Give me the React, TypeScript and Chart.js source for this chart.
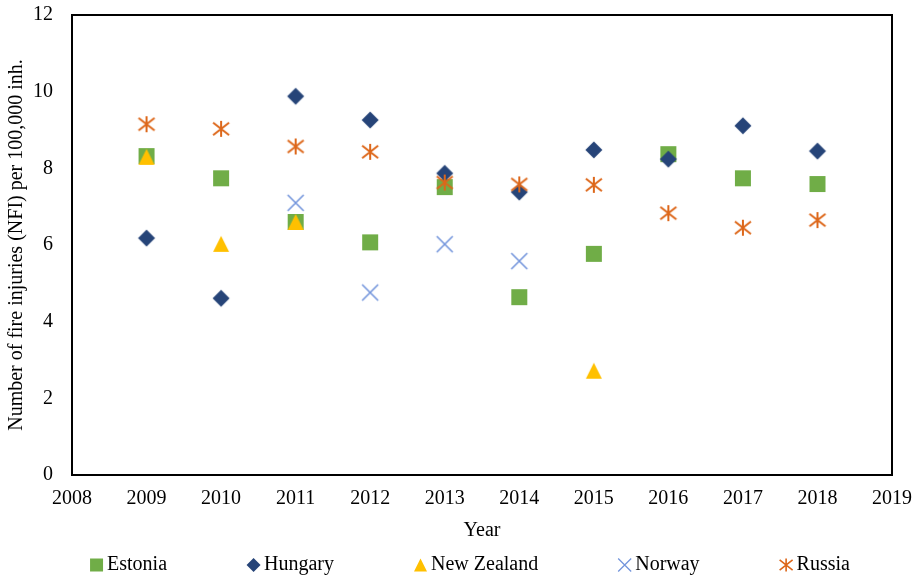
import React, { useEffect, useRef } from 'react';
import { Chart, registerables } from 'chart.js';

Chart.register(...registerables);

// ---- data ----
const years = [2009, 2010, 2011, 2012, 2013, 2014, 2015, 2016, 2017, 2018];
const seriesNames = ['Estonia', 'Hungary', 'New Zealand', 'Norway', 'Russia'];
const estonia = [8.32, 7.74, 6.6, 6.07, 7.51, 4.64, 5.77, 8.37, 7.74, 7.59];
const hungary = [6.18, 4.61, 9.88, 9.26, 7.87, 7.38, 8.48, 8.24, 9.11, 8.45];
const newZealand = [8.3, 6.03, 6.6, null, null, null, 2.72, null, null, null];
const norway = [null, null, 7.1, 4.76, 6.02, 5.58, null, null, null, null];
const russia = [9.15, 9.03, 8.57, 8.43, 7.63, 7.58, 7.57, 6.83, 6.45, 6.65];
const xTickMin = 2008;
const xTickMax = 2019;
const xTickStep = 1;
const yTickMin = 0;
const yTickMax = 12;
const yTickStep = 2;
const xTitle = 'Year';
const yTitle = 'Number of fire injuries (NFI) per 100,000 inh.';

// ---- styles ----
const FONT = "'Liberation Serif', 'Times New Roman', serif";
const colors = ['#70AD47', '#264478', '#FFC000', '#7395DC', '#DD671A'];
type Kind = 'square' | 'diamond' | 'triangle' | 'x' | 'asterisk';
const kinds: Kind[] = ['square', 'diamond', 'triangle', 'x', 'asterisk'];
const markSizes = [16, 17, 16, 16, 16];
const legendMarkSizes = [13, 14, 13, 13, 13];
const LEG_MARK = 13;
const LEG_TEXT_GAP = 4;
const LEG_ITEM_GAP = 80;
const LEG_CENTER_X = 470;
const LEG_FROM_BOTTOM = 13;

function drawMarker(ctx: CanvasRenderingContext2D, kind: Kind, cx: number, cy: number, s: number, color: string) {
  const h = s / 2;
  ctx.save();
  ctx.fillStyle = color;
  ctx.strokeStyle = color;
  ctx.beginPath();
  if (kind === 'square') {
    ctx.rect(cx - h, cy - h, s, s);
    ctx.fill();
  } else if (kind === 'diamond') {
    ctx.moveTo(cx, cy - h);
    ctx.lineTo(cx + h, cy);
    ctx.lineTo(cx, cy + h);
    ctx.lineTo(cx - h, cy);
    ctx.closePath();
    ctx.fill();
  } else if (kind === 'triangle') {
    ctx.moveTo(cx, cy - h);
    ctx.lineTo(cx + h, cy + h);
    ctx.lineTo(cx - h, cy + h);
    ctx.closePath();
    ctx.fill();
  } else if (kind === 'x') {
    ctx.lineWidth = s / 10;
    ctx.moveTo(cx - h, cy - h);
    ctx.lineTo(cx + h, cy + h);
    ctx.moveTo(cx + h, cy - h);
    ctx.lineTo(cx - h, cy + h);
    ctx.stroke();
  } else {
    ctx.lineWidth = s / 8;
    const d = h * 0.78;
    ctx.moveTo(cx, cy - h);
    ctx.lineTo(cx, cy + h);
    ctx.moveTo(cx - h, cy - d);
    ctx.lineTo(cx + h, cy + d);
    ctx.moveTo(cx + h, cy - d);
    ctx.lineTo(cx - h, cy + d);
    ctx.stroke();
  }
  ctx.restore();
}

function markerCanvas(kind: Kind, s: number, color: string) {
  const c = document.createElement('canvas');
  c.width = 22;
  c.height = 22;
  const ctx = c.getContext('2d')!;
  drawMarker(ctx, kind, c.width / 2, c.height / 2, s, color);
  return c;
}

const framePlugin = {
  id: 'frame',
  beforeDatasetsDraw(chart: any) {
    const { ctx, chartArea } = chart;
    ctx.save();
    ctx.strokeStyle = '#000';
    ctx.lineWidth = 2;
    ctx.strokeRect(chartArea.left, chartArea.top, chartArea.right - chartArea.left, chartArea.bottom - chartArea.top);
    ctx.restore();
  },
};

const legendPlugin = {
  id: 'bottomLegend',
  afterDraw(chart: any) {
    const ctx: CanvasRenderingContext2D = chart.ctx;
    ctx.save();
    ctx.font = `20px ${FONT}`;
    ctx.textBaseline = 'middle';
    ctx.textAlign = 'left';
    ctx.fillStyle = '#000';
    const items = chart.data.datasets.map((ds: any, i: number) => ({
      label: ds.label as string,
      kind: kinds[i],
      color: colors[i],
      size: legendMarkSizes[i],
      w: LEG_MARK + LEG_TEXT_GAP + ctx.measureText(ds.label).width,
    }));
    const total = items.reduce((a: number, it: any) => a + it.w, 0) + LEG_ITEM_GAP * (items.length - 1);
    let x = LEG_CENTER_X - total / 2;
    const y = chart.height - LEG_FROM_BOTTOM;
    items.forEach((it: any) => {
      drawMarker(ctx, it.kind, x + LEG_MARK / 2, y, it.size, it.color);
      ctx.fillText(it.label, x + LEG_MARK + LEG_TEXT_GAP, y);
      x += it.w + LEG_ITEM_GAP;
    });
    ctx.restore();
  },
};

export default function App() {
  const ref = useRef<HTMLCanvasElement>(null);

  useEffect(() => {
    document.body.style.margin = '0';
    const canvas = ref.current;
    if (!canvas) return;
    const all = [estonia, hungary, newZealand, norway, russia];
    const datasets = all.map((vals, i) => ({
      label: seriesNames[i],
      data: years
        .map((x, j) => ({ x, y: vals[j] }))
        .filter((p) => p.y !== null && p.y !== undefined),
      pointStyle: markerCanvas(kinds[i], markSizes[i], colors[i]),
      pointRadius: 8,
      pointHoverRadius: 8,
      backgroundColor: colors[i],
      borderColor: colors[i],
      showLine: false,
      order: all.length - 1 - i,
      clip: false as const,
    }));

    const tickFont = { family: FONT, size: 20 };
    const chart = new Chart(canvas, {
      type: 'scatter',
      data: { datasets },
      plugins: [framePlugin, legendPlugin],
      options: {
        responsive: false,
        animation: false,
        devicePixelRatio: 1,
        events: [],
        layout: { padding: { top: 15, right: 28, bottom: 35, left: 0 } },
        plugins: {
          legend: { display: false },
          tooltip: { enabled: false },
        },
        scales: {
          x: {
            type: 'linear',
            min: xTickMin,
            max: xTickMax,
            grid: { display: false, drawTicks: false },
            border: { display: false },
            ticks: {
              stepSize: xTickStep,
              font: tickFont,
              color: '#000',
              padding: 12,
              maxRotation: 0,
              autoSkip: false,
              callback: (v: any) => String(v),
            },
            title: {
              display: true,
              text: xTitle,
              font: tickFont,
              color: '#000',
              padding: { top: 0, bottom: 0 },
            },
            afterFit: (s: any) => {
              s.height = 68;
              s.paddingLeft = 0;
              s.paddingRight = 0;
            },
          },
          y: {
            type: 'linear',
            min: yTickMin,
            max: yTickMax,
            grid: { display: false, drawTicks: false },
            border: { display: false },
            ticks: {
              stepSize: yTickStep,
              font: tickFont,
              color: '#000',
              padding: 19,
              callback: (v: any) => String(v),
            },
            title: {
              display: true,
              text: yTitle,
              font: tickFont,
              color: '#000',
              padding: { top: 5, bottom: 0 },
            },
            afterFit: (s: any) => {
              s.width = 72;
              s.paddingTop = 0;
              s.paddingBottom = 0;
            },
          },
        },
      },
    } as any);
    return () => chart.destroy();
  }, []);

  return (
    <div style={{ width: 920, height: 578, background: '#fff' }}>
      <canvas ref={ref} width={920} height={578} style={{ display: 'block' }} />
    </div>
  );
}
